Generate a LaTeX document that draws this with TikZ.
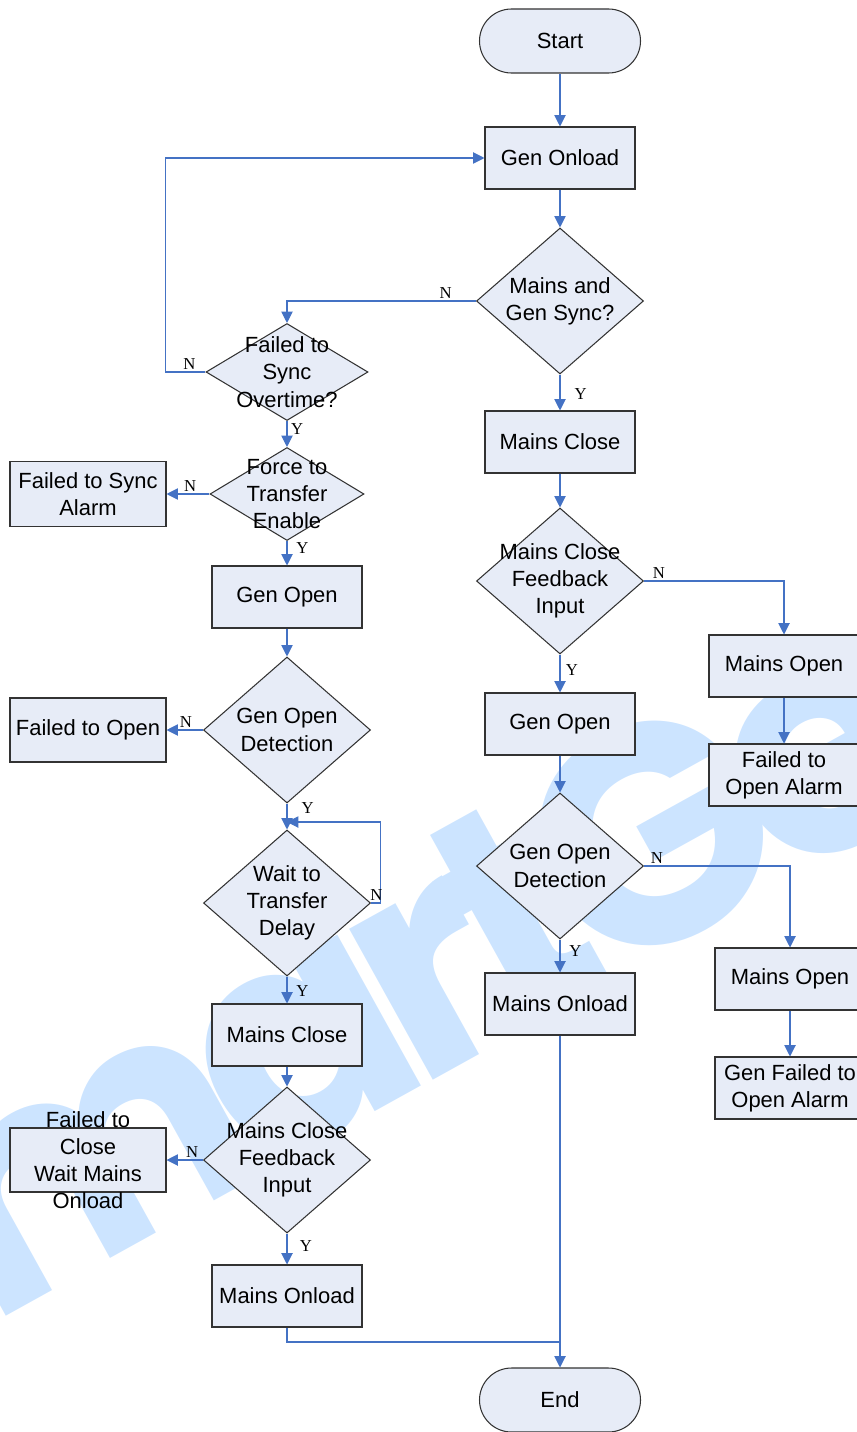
\documentclass[tikz,border=0pt]{standalone}
\usepackage{fontspec}
\setmainfont{Liberation Sans}
\newfontfamily\ynfont{Liberation Serif}
\newfontfamily\markfont{Poppins}[LetterSpace=-8]
\usetikzlibrary{shapes.geometric,arrows.meta,positioning}

\definecolor{boxfill}{RGB}{231,236,247}
\definecolor{flowblue}{RGB}{68,114,196}
\definecolor{markblue}{RGB}{204,228,255}

\tikzstyle{startstop} = [
rectangle,
rounded corners=0.64cm,
minimum width=3.22cm,
minimum height=1.28cm,
text centered,
draw=black!80,
line width=0.6pt,
fill=boxfill
]
\tikzstyle{process} = [
rectangle,
minimum width=3cm,
minimum height=1.24cm,
text centered,
align=center,
draw=black!80,
line width=0.6pt,
fill=boxfill
]
\tikzstyle{decision} = [
diamond,
minimum width=3.34cm,
minimum height=2.92cm,
inner sep=0pt,
draw=black!80,
line width=0.6pt,
fill=boxfill
]
\tikzstyle{arrow} = [
draw=flowblue,
line width=0.6pt,
-{Triangle[width=6.5pt,length=6.5pt]}
]
\tikzstyle{link} = [
draw=flowblue,
line width=0.6pt
]
\tikzstyle{yn} = [
font=\ynfont\fontsize{9.5}{11}\selectfont,
inner sep=1pt
]
\tikzstyle{watermark} = [
text=markblue,
font=\markfont\bfseries\fontsize{176}{176}\selectfont,
inner sep=0pt,
rotate=29
]

\begin{document}
\begin{tikzpicture}[
font=\fontsize{12.5}{15.5}\selectfont
]
\useasboundingbox (0,0) rectangle (17.12,-28.64);

% Watermark
\node (mark) [watermark] at (8.5,-19.2) {SmartGen};

% Right column
\node (start) [startstop] at (11.2,-0.82) {Start};
\node (genon) [process, below of=start, node distance=2.34cm] {Gen Onload};
\node (sync) [decision, below of=genon, node distance=2.86cm,
  label={[align=center]center:{Mains and\\Gen Sync?}}] {};
\node (mclose) [process, below of=sync, node distance=2.82cm] {Mains Close};
\node (mcfb) [decision, below of=mclose, node distance=2.78cm,
  label={[align=center]center:{Mains Close\\Feedback\\Input}}] {};
\node (gopen) [process, below of=mcfb, node distance=2.86cm] {Gen Open};
\node (god) [decision, below of=gopen, node distance=2.84cm,
  label={[align=center]center:{Gen Open\\Detection}}] {};
\node (monload) [process, below of=god, node distance=2.76cm] {Mains Onload};
\node (stop) [startstop, below of=monload, node distance=7.92cm] {End};

% Far right
\node (mopenA) [process] at (15.68,-13.32) {Mains Open};
\node (alarmA) [process, below of=mopenA, node distance=2.18cm] {Failed to\\Open Alarm};
\node (mopenB) [process] at (15.8,-19.58) {Mains Open};
\node (alarmB) [process, below of=mopenB, node distance=2.18cm] {Gen Failed to\\Open Alarm};

% Left column
\node (fsync) [decision, minimum width=3.24cm, minimum height=1.94cm,
  label={[align=center]center:{Failed to\\Sync\\Overtime?}}] at (5.74,-7.44) {};
\node (force) [decision, minimum width=3.08cm, minimum height=1.86cm,
  below of=fsync, node distance=2.44cm,
  label={[align=center]center:{Force to\\Transfer\\Enable}}] {};
\node (gopenL) [process, below of=force, node distance=2.06cm] {Gen Open};
\node (godL) [decision, below of=gopenL, node distance=2.66cm,
  label={[align=center]center:{Gen Open\\Detection}}] {};
\node (wait) [decision, below of=godL, node distance=3.46cm,
  label={[align=center]center:{Wait to\\Transfer\\Delay}}] {};
\node (mcloseL) [process, below of=wait, node distance=2.64cm] {Mains Close};
\node (mcfbL) [decision, below of=mcloseL, node distance=2.5cm,
  label={[align=center]center:{Mains Close\\Feedback\\Input}}] {};
\node (monloadL) [process, below of=mcfbL, node distance=2.72cm] {Mains Onload};

% Far left
\node (syncalarm) [process, minimum width=3.12cm, minimum height=1.3cm,
  left of=force, node distance=3.98cm] {Failed to Sync\\Alarm};
\node (fopen) [process, minimum width=3.12cm, minimum height=1.28cm,
  left of=godL, node distance=3.98cm] {Failed to Open};
\node (fclose) [process, minimum width=3.12cm, minimum height=1.28cm,
  left of=mcfbL, node distance=3.98cm,
  label={[align=center]center:{Failed to\\Close\\Wait Mains\\Onload}}] {};

\coordinate (waitjoin) at (5.74,-16.44);
\coordinate (merge) at (11.2,-26.84);

% Arrows
\draw [arrow] (start) -- (genon);
\draw [arrow] (genon) -- (sync);
\draw [arrow] (sync.west) -| node[yn, above, pos=0.08] {N} (fsync.north);
\draw [arrow] (sync.south) -- node[yn, right=7pt, pos=0.54] {Y} (mclose);
\draw [arrow] (fsync.west) -- node[yn, above, pos=0.4] {N} ++(-0.8,0) |- (genon.west);
\draw [arrow] (fsync.south) -- node[yn, right=1pt, pos=0.32] {Y} (force.north);
\draw [arrow] (force.west) -- node[yn, above, pos=0.45] {N} (syncalarm.east);
\draw [arrow] (force.south) -- node[yn, right=4pt, pos=0.28] {Y} (gopenL);
\draw [arrow] (gopenL) -- (godL);
\draw [arrow] (godL.west) -- node[yn, above, pos=0.47] {N} (fopen.east);
\draw [arrow] (godL.south) -- node[yn, right=7pt, pos=0.19] {Y} (wait.north);
\draw [arrow] (wait.east) -- node[yn, above, pos=0.6] {N} ++(0.18,0) |- (waitjoin);
\draw [arrow] (wait.south) -- node[yn, right=4pt, pos=0.52] {Y} (mcloseL);
\draw [arrow] (mcloseL) -- (mcfbL);
\draw [arrow] (mcfbL.west) -- node[yn, above, pos=0.3] {N} (fclose.east);
\draw [arrow] (mcfbL.south) -- node[yn, right=6pt, pos=0.39] {Y} (monloadL);
\draw [link] (monloadL.south) |- (merge);
\draw [arrow] (mclose) -- (mcfb);
\draw [arrow] (mcfb.east) -| node[yn, above, pos=0.053] {N} (mopenA.north);
\draw [arrow] (mcfb.south) -- node[yn, right=2pt, pos=0.41] {Y} (gopen);
\draw [arrow] (mopenA) -- (alarmA);
\draw [arrow] (gopen) -- (god);
\draw [arrow] (god.east) -| node[yn, above, pos=0.044] {N} (mopenB.north);
\draw [arrow] (god.south) -- node[yn, right=4pt, pos=0.34] {Y} (monload);
\draw [arrow] (mopenB) -- (alarmB);
\draw [arrow] (monload) -- (stop);

\end{tikzpicture}
\end{document}
